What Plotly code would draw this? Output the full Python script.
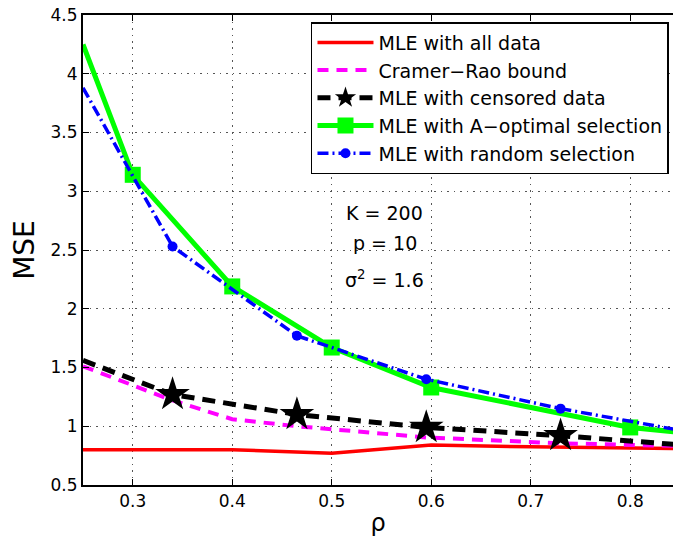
import plotly.graph_objects as go

# ---- data -------------------------------------------------------------
# MLE using every observation
rho_all = [0.25, 0.30, 0.40, 0.50, 0.60, 0.70, 0.80, 0.86]
mse_all = [0.80, 0.80, 0.80, 0.77, 0.84, 0.825, 0.81, 0.81]

# Cramer-Rao bound
rho_crb = [0.25, 0.34, 0.40, 0.465, 0.595, 0.73, 0.86]
mse_crb = [1.51, 1.22, 1.06, 1.00, 0.905, 0.855, 0.83]

# MLE with censored data (stars on the inner points)
rho_cens = [0.25, 0.34, 0.465, 0.595, 0.73, 0.86]
mse_cens = [1.56, 1.27, 1.10, 0.99, 0.92, 0.835]

# MLE with A-optimal selection (squares on the inner points)
rho_aopt = [0.25, 0.30, 0.40, 0.50, 0.60, 0.80, 0.86]
mse_aopt = [4.25, 3.14, 2.19, 1.67, 1.33, 0.99, 0.94]

# MLE with random selection (dots on the inner points)
rho_rand = [0.25, 0.34, 0.465, 0.595, 0.73, 0.86]
mse_rand = [3.88, 2.53, 1.77, 1.40, 1.15, 0.95]

x_ticks = [0.3, 0.4, 0.5, 0.6, 0.7, 0.8]
x_ticktext = ["0.3", "0.4", "0.5", "0.6", "0.7", "0.8"]
y_ticks = [0.5, 1, 1.5, 2, 2.5, 3, 3.5, 4, 4.5]
y_ticktext = ["0.5", "1", "1.5", "2", "2.5", "3", "3.5", "4", "4.5"]

names = [
    "MLE with all data",
    "Cramer\u2212Rao bound",
    "MLE with censored data",
    "MLE with A\u2212optimal selection",
    "MLE with random selection",
]
param_lines = ["K = 200", "p = 10", "\u03c3<sup>2</sup> = 1.6"]

FONT = "DejaVu Sans"

series = [
    dict(x=rho_all, y=mse_all, name=names[0],
         line=dict(color="#ff0000", width=3.5), marker=None),
    dict(x=rho_crb, y=mse_crb, name=names[1],
         line=dict(color="#ff00ff", width=4, dash="11px,8px"), marker=None),
    dict(x=rho_cens, y=mse_cens, name=names[2],
         line=dict(color="#000000", width=5, dash="13px,8px"),
         marker=dict(symbol="star", size=26, color="#000000")),
    dict(x=rho_aopt, y=mse_aopt, name=names[3],
         line=dict(color="#00ff00", width=5),
         marker=dict(symbol="square", size=16, color="#00ff00")),
    dict(x=rho_rand, y=mse_rand, name=names[4],
         line=dict(color="#0000ff", width=3.5, dash="11px,4px,2px,4px"),
         marker=dict(symbol="circle", size=10, color="#0000ff")),
]

fig = go.Figure()
for s in series:
    # the curve itself
    fig.add_trace(go.Scatter(x=s["x"], y=s["y"], mode="lines", line=s["line"],
                             showlegend=False, hoverinfo="skip"))
    # markers sit on the inner vertices only
    if s["marker"] is not None:
        fig.add_trace(go.Scatter(x=s["x"][1:-1], y=s["y"][1:-1], mode="markers",
                                 marker=s["marker"], showlegend=False,
                                 hoverinfo="skip"))
    # legend entry combining line and marker
    fig.add_trace(go.Scatter(x=[None], y=[None],
                             mode="lines+markers" if s["marker"] else "lines",
                             line=s["line"], marker=s["marker"] or {},
                             name=s["name"]))

# parameter block
for txt, yv in zip(param_lines, [2.813, 2.562, 2.251]):
    fig.add_annotation(x=0.5535, y=yv, xref="x", yref="y", text=txt,
                       showarrow=False, xanchor="center", yanchor="middle",
                       font=dict(family=FONT, size=19, color="black"))

axis_common = dict(
    showline=True, linecolor="black", linewidth=2,
    ticks="inside", ticklen=6, tickwidth=1, tickcolor="black",
    showgrid=True, gridcolor="#555555", gridwidth=1, griddash="1.5px,5px",
    zeroline=False,
    tickfont=dict(family=FONT, size=17, color="black"),
)

fig.update_xaxes(range=[0.25, 0.843], tickvals=x_ticks, ticktext=x_ticktext,
                 mirror="ticks",
                 title=dict(text="\u03c1", font=dict(family=FONT, size=24, color="black"),
                            standoff=4),
                 **axis_common)
fig.update_yaxes(range=[0.5, 4.5], tickvals=y_ticks, ticktext=y_ticktext,
                 title=dict(text="MSE", font=dict(family=FONT, size=28, color="black"),
                            standoff=8),
                 **axis_common)

fig.update_layout(
    width=673, height=538,
    margin=dict(l=83, r=0, t=15, b=53),
    paper_bgcolor="white", plot_bgcolor="white",
    font=dict(family=FONT, color="black"),
    legend=dict(x=0.9932, y=0.985, xanchor="right", yanchor="top",
                bgcolor="white", bordercolor="black", borderwidth=1.5,
                font=dict(family=FONT, size=19, color="black"),
                itemwidth=56, tracegroupgap=0),
    showlegend=True,
)

fig.write_html("out.html")
